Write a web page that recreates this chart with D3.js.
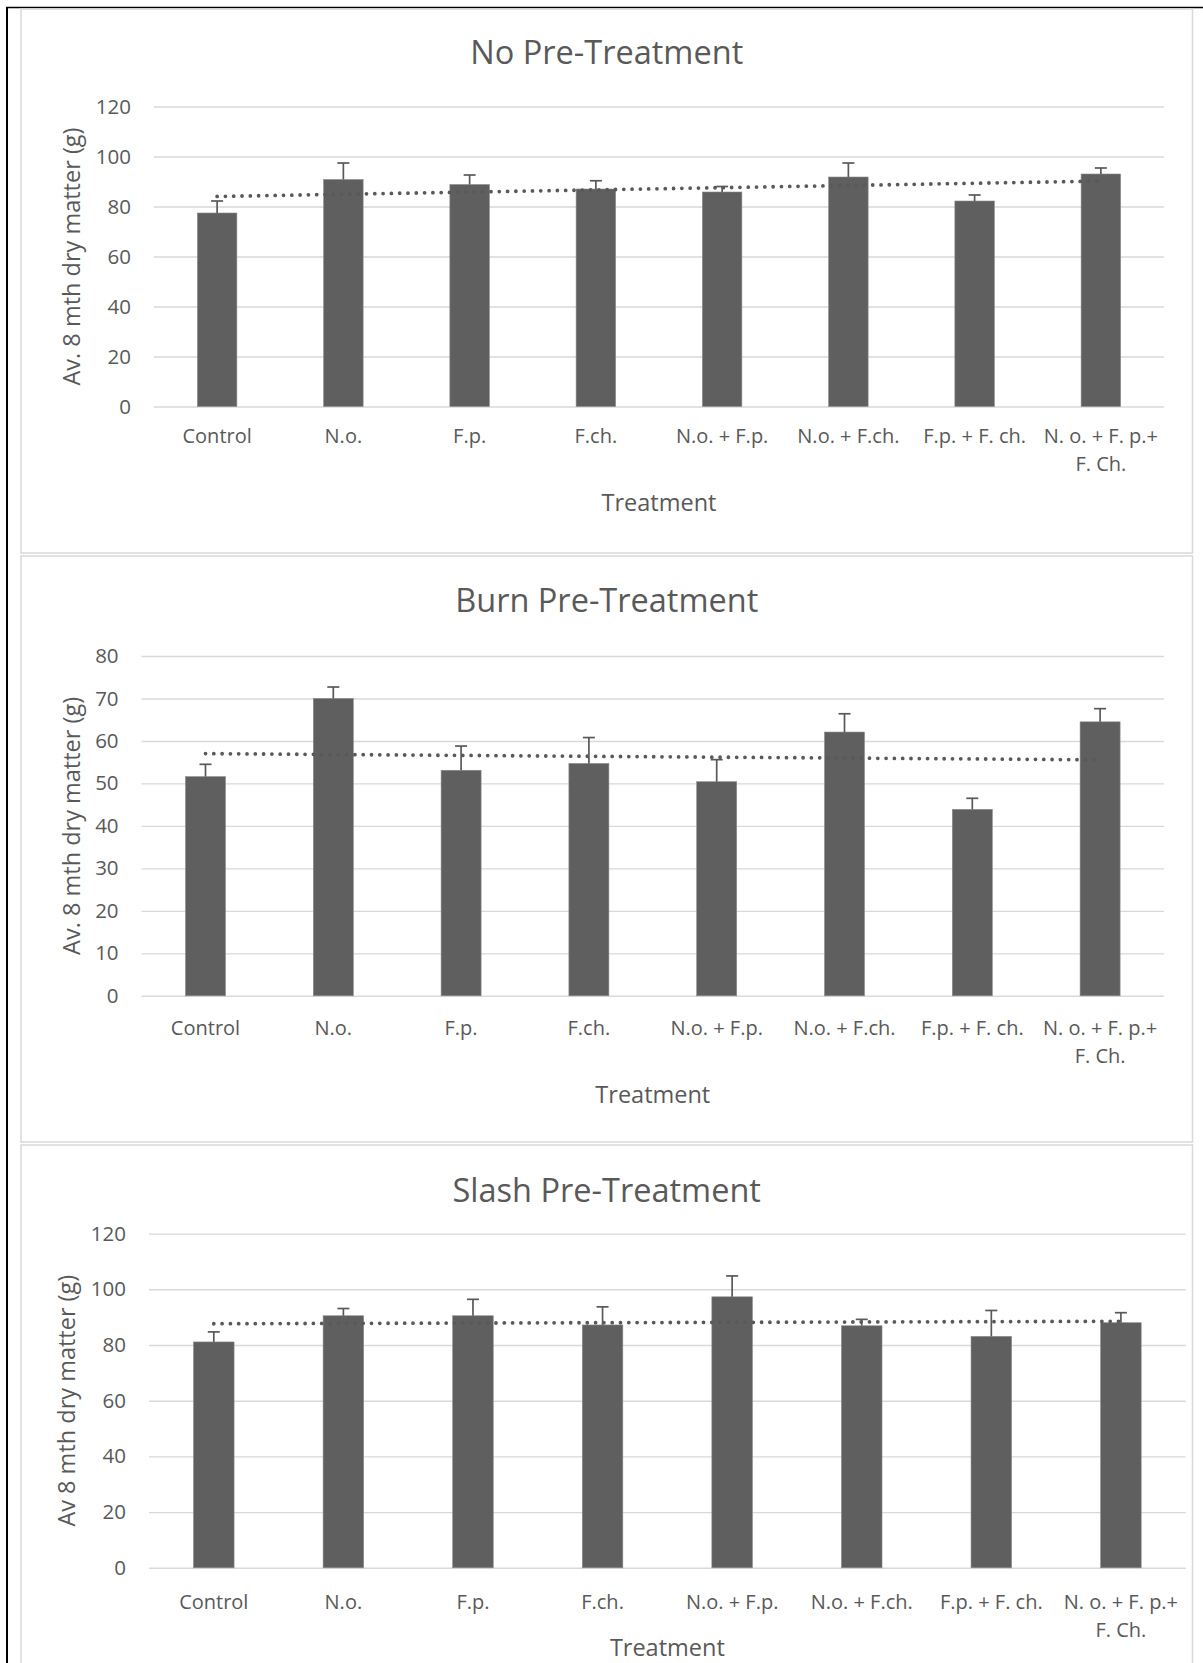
<!DOCTYPE html>
<html>
<head>
<meta charset="utf-8">
<script src="https://cdn.jsdelivr.net/npm/d3@7"></script>
<style>
  html, body { margin: 0; padding: 0; background: #ffffff; }
  svg { display: block; }
  text { font-family: "Open Sans", "Noto Sans", sans-serif; fill: #595959; }
</style>
</head>
<body>
<svg id="chart" width="1203" height="1663"></svg>
<script>
// ---------------- DATA ----------------
const categoryLines = [
  ["Control"], ["N.o."], ["F.p."], ["F.ch."],
  ["N.o. + F.p."], ["N.o. + F.ch."], ["F.p. + F. ch."],
  ["N. o. + F. p.+", "F. Ch."]
];

const noPreTitle = "No Pre-Treatment";
const noPreYLabel = "Av. 8 mth dry matter (g)";
const noPreValues = [77.4, 90.8, 88.8, 87.0, 85.8, 91.8, 82.2, 93.0];
const noPreErrors = [4.8, 6.6, 3.8, 3.3, 2.2, 5.6, 2.4, 2.4];
const noPreTicks  = [0, 20, 40, 60, 80, 100, 120];

const burnTitle = "Burn Pre-Treatment";
const burnYLabel = "Av. 8 mth dry matter (g)";
const burnValues = [51.6, 70.0, 53.1, 54.7, 50.4, 62.1, 43.9, 64.5];
const burnErrors = [2.9, 2.7, 5.7, 6.1, 5.2, 4.3, 2.6, 3.1];
const burnTicks  = [0, 10, 20, 30, 40, 50, 60, 70, 80];

const slashTitle = "Slash Pre-Treatment";
const slashYLabel = "Av 8 mth dry matter (g)";
const slashValues = [81.1, 90.5, 90.5, 87.2, 97.3, 86.9, 83.1, 88.0];
const slashErrors = [3.6, 2.6, 5.9, 6.5, 7.5, 2.3, 9.3, 3.6];
const slashTicks  = [0, 20, 40, 60, 80, 100, 120];

const xAxisTitle = "Treatment";

// ---------------- LAYOUT ----------------
const panels = [
  { title: noPreTitle, yLabel: noPreYLabel, values: noPreValues, errors: noPreErrors, ticks: noPreTicks,
    box: {x: 21, y: 9, w: 1171.5, h: 544},
    plot: {left: 154, right: 1164, top: 106.5, bottom: 406.5},
    titleY: 64, yTitleX: 80.4, catY: 443, xTitleY: 511.4 },
  { title: burnTitle, yLabel: burnYLabel, values: burnValues, errors: burnErrors, ticks: burnTicks,
    box: {x: 21, y: 556, w: 1171.5, h: 586},
    plot: {left: 141.6, right: 1164, top: 656, bottom: 995.8},
    titleY: 612, yTitleX: 80.4, catY: 1035.3, xTitleY: 1103 },
  { title: slashTitle, yLabel: slashYLabel, values: slashValues, errors: slashErrors, ticks: slashTicks,
    box: {x: 21, y: 1145, w: 1171.5, h: 540},
    plot: {left: 149, right: 1185.7, top: 1233.6, bottom: 1567.8},
    titleY: 1201.7, yTitleX: 74.6, catY: 1609, xTitleY: 1656 }
];

const svg = d3.select("#chart");
const textColor = "#595959";
const barColor = "#5f5f5f";
const gridColor = "#d9d9d9";

// outer frame lines
svg.append("line").attr("x1", 6).attr("x2", 1203).attr("y1", 7.5).attr("y2", 7.5)
  .attr("stroke", "#000").attr("stroke-width", 1.5);
svg.append("line").attr("x1", 7).attr("x2", 7).attr("y1", 7).attr("y2", 1663)
  .attr("stroke", "#000").attr("stroke-width", 2);

panels.forEach(p => {
  const g = svg.append("g");

  // panel border
  g.append("rect")
    .attr("x", p.box.x).attr("y", p.box.y)
    .attr("width", p.box.w).attr("height", p.box.h)
    .attr("fill", "#fff").attr("stroke", gridColor).attr("stroke-width", 1.5);

  const idx = d3.range(p.values.length);
  const x = d3.scaleBand().domain(idx)
    .range([p.plot.left, p.plot.right])
    .paddingInner(0.687).paddingOuter(0.3435);
  const yMax = p.ticks[p.ticks.length - 1];
  const y = d3.scaleLinear().domain([0, yMax]).range([p.plot.bottom, p.plot.top]);

  // gridlines + y tick labels via axis
  const yAxis = d3.axisLeft(y).tickValues(p.ticks)
    .tickSize(-(p.plot.right - p.plot.left)).tickPadding(23).tickFormat(d3.format("d"));
  const ya = g.append("g").attr("transform", `translate(${p.plot.left},0)`).call(yAxis);
  ya.select(".domain").remove();
  ya.selectAll(".tick line").attr("stroke", gridColor).attr("stroke-width", 1.4);
  ya.selectAll(".tick text")
    .attr("font-size", 20.5).attr("fill", textColor)
    .style("font-family", '"Open Sans", "Noto Sans", sans-serif');

  // bars
  g.selectAll("rect.bar").data(p.values).enter().append("rect")
    .attr("class", "bar")
    .attr("x", (d, i) => x(i))
    .attr("width", x.bandwidth())
    .attr("y", d => y(d))
    .attr("height", d => y(0) - y(d))
    .attr("fill", barColor)
    .attr("stroke", "#8a8a8a").attr("stroke-width", 0.6);

  // linear trendline (least squares over categories 1..n)
  const n = p.values.length;
  const xs = idx.map(i => i + 1);
  const mx = d3.mean(xs), my = d3.mean(p.values);
  const slope = d3.sum(xs.map((xv, i) => (xv - mx) * (p.values[i] - my))) /
                d3.sum(xs.map(xv => (xv - mx) * (xv - mx)));
  const icpt = my - slope * mx;
  const cx = i => x(i) + x.bandwidth() / 2;
  g.append("line")
    .attr("x1", cx(0)).attr("y1", y(icpt + slope * 1))
    .attr("x2", cx(n - 1)).attr("y2", y(icpt + slope * n))
    .attr("stroke", "#595959").attr("stroke-width", 3.8)
    .attr("stroke-linecap", "round")
    .attr("stroke-dasharray", "0 8.3");

  // error bars (plus direction)
  const eg = g.append("g").attr("stroke", "#595959").attr("stroke-width", 1.7);
  p.values.forEach((v, i) => {
    const top = y(v + p.errors[i]);
    eg.append("line").attr("x1", cx(i)).attr("x2", cx(i)).attr("y1", y(v)).attr("y2", top);
    eg.append("line").attr("x1", cx(i) - 6).attr("x2", cx(i) + 6).attr("y1", top).attr("y2", top);
  });

  // category labels
  const cl = g.selectAll("text.cat").data(categoryLines).enter().append("text")
    .attr("class", "cat")
    .attr("text-anchor", "middle")
    .attr("font-size", 20)
    .attr("x", (d, i) => cx(i))
    .attr("y", p.catY);
  cl.each(function(lines, i) {
    const t = d3.select(this);
    lines.forEach((ln, k) => {
      t.append("tspan").attr("x", cx(i)).attr("dy", k === 0 ? 0 : 28).text(ln);
    });
  });

  // chart title
  g.append("text")
    .attr("x", p.box.x + p.box.w / 2).attr("y", p.titleY)
    .attr("text-anchor", "middle").attr("font-size", 32.5)
    .text(p.title);

  // y axis title
  const ymid = (p.plot.top + p.plot.bottom) / 2;
  g.append("text")
    .attr("transform", `translate(${p.yTitleX},${ymid}) rotate(-90)`)
    .attr("text-anchor", "middle").attr("font-size", 23.5)
    .text(p.yLabel);

  // x axis title
  g.append("text")
    .attr("x", (p.plot.left + p.plot.right) / 2).attr("y", p.xTitleY)
    .attr("text-anchor", "middle").attr("font-size", 23.5)
    .text(xAxisTitle);
});
</script>
</body>
</html>
